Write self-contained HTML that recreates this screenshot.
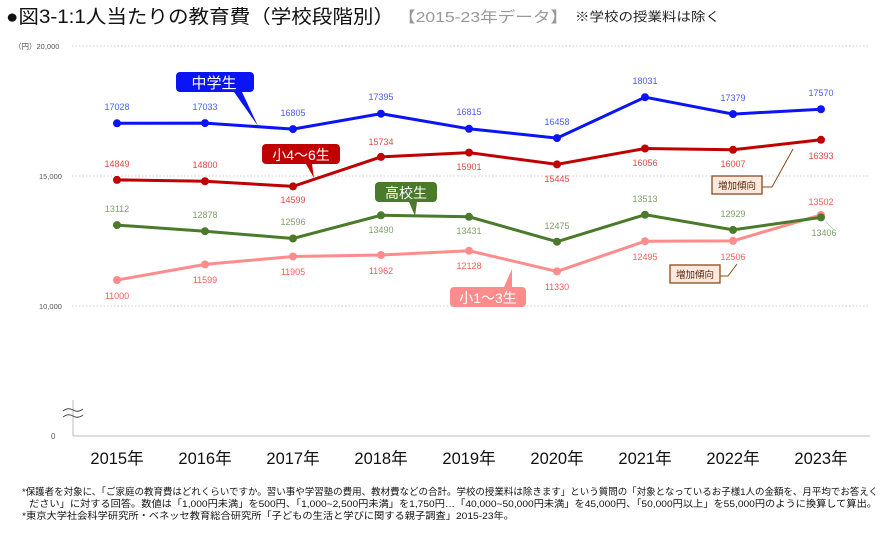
<!DOCTYPE html>
<html><head><meta charset="utf-8"><style>
body{margin:0;background:#fff;width:882px;height:530px;overflow:hidden;font-family:"Liberation Sans","Noto Sans CJK JP",sans-serif}
</style></head><body>
<svg width="882" height="530" xmlns="http://www.w3.org/2000/svg" font-family="Liberation Sans, Noto Sans CJK JP, sans-serif">
<text x="6" y="23" font-size="19" fill="#111" textLength="388" lengthAdjust="spacingAndGlyphs">●図3-1:1人当たりの教育費（学校段階別）</text>
<text x="398" y="22" font-size="15" fill="#999" textLength="170" lengthAdjust="spacingAndGlyphs">【2015-23年データ】</text>
<text x="575" y="21" font-size="12.5" fill="#222" textLength="145" lengthAdjust="spacingAndGlyphs">※学校の授業料は除く</text>
<text x="14" y="49" font-size="7.5" fill="#555">（円）20,000</text>
<text x="39" y="179" font-size="7.5" fill="#555">15,000</text>
<text x="39" y="309" font-size="7.5" fill="#555">10,000</text>
<text x="51" y="439" font-size="8" fill="#555">0</text>
<g stroke="#ccc" stroke-width="1" stroke-dasharray="1.5,2">
<line x1="72" y1="46" x2="870" y2="46"/><line x1="72" y1="176" x2="870" y2="176"/><line x1="72" y1="306" x2="870" y2="306"/></g>
<line x1="73" y1="400" x2="73" y2="436" stroke="#bbb"/><line x1="73" y1="436" x2="870" y2="436" stroke="#bbb"/>
<path d="M63,411 q5,-4 10,-1 t10,-1 M63,417 q5,-4 10,-1 t10,-1" stroke="#444" fill="#fff" stroke-width="1"/>
<g font-size="16.5" fill="#111" text-anchor="middle">
<text x="117" y="464">2015年</text><text x="205" y="464">2016年</text><text x="293" y="464">2017年</text><text x="381" y="464">2018年</text><text x="469" y="464">2019年</text><text x="557" y="464">2020年</text><text x="645" y="464">2021年</text><text x="733" y="464">2022年</text><text x="821" y="464">2023年</text></g>
<!-- pink -->
<polyline points="117,280 205,264.4 293,256.5 381,255 469,250.7 557,271.4 645,241.2 733,240.9 821,215" fill="none" stroke="#ff8c8c" stroke-width="3"/>
<g fill="#ff8c8c"><circle cx="117" cy="280" r="4"/><circle cx="205" cy="264.4" r="4"/><circle cx="293" cy="256.5" r="4"/><circle cx="381" cy="255" r="4"/><circle cx="469" cy="250.7" r="4"/><circle cx="557" cy="271.4" r="4"/><circle cx="645" cy="241.2" r="4"/><circle cx="733" cy="240.9" r="4"/><circle cx="821" cy="215" r="4"/></g>
<!-- green -->
<polyline points="117,225.1 205,231.2 293,238.5 381,215.3 469,216.8 557,241.7 645,214.7 733,229.9 821,217.4" fill="none" stroke="#4a7a2a" stroke-width="3"/>
<g fill="#4a7a2a"><circle cx="117" cy="225.1" r="4"/><circle cx="205" cy="231.2" r="4"/><circle cx="293" cy="238.5" r="4"/><circle cx="381" cy="215.3" r="4"/><circle cx="469" cy="216.8" r="4"/><circle cx="557" cy="241.7" r="4"/><circle cx="645" cy="214.7" r="4"/><circle cx="733" cy="229.9" r="4"/><circle cx="821" cy="217.4" r="4"/></g>
<!-- red -->
<polyline points="117,179.9 205,181.2 293,186.4 381,156.9 469,152.6 557,164.4 645,148.5 733,149.8 821,139.8" fill="none" stroke="#c00000" stroke-width="3"/>
<g fill="#c00000"><circle cx="117" cy="179.9" r="4"/><circle cx="205" cy="181.2" r="4"/><circle cx="293" cy="186.4" r="4"/><circle cx="381" cy="156.9" r="4"/><circle cx="469" cy="152.6" r="4"/><circle cx="557" cy="164.4" r="4"/><circle cx="645" cy="148.5" r="4"/><circle cx="733" cy="149.8" r="4"/><circle cx="821" cy="139.8" r="4"/></g>
<!-- blue -->
<polyline points="117,123.3 205,123.1 293,129.1 381,113.7 469,128.8 557,138.1 645,97.2 733,114.1 821,109.2" fill="none" stroke="#0a14f5" stroke-width="3"/>
<g fill="#0a14f5"><circle cx="117" cy="123.3" r="4"/><circle cx="205" cy="123.1" r="4"/><circle cx="293" cy="129.1" r="4"/><circle cx="381" cy="113.7" r="4"/><circle cx="469" cy="128.8" r="4"/><circle cx="557" cy="138.1" r="4"/><circle cx="645" cy="97.2" r="4"/><circle cx="733" cy="114.1" r="4"/><circle cx="821" cy="109.2" r="4"/></g>
<g font-size="9" text-anchor="middle">
<g fill="#4a5aff"><text x="117" y="110">17028</text><text x="205" y="110">17033</text><text x="293" y="116">16805</text><text x="381" y="100">17395</text><text x="469" y="115">16815</text><text x="557" y="125">16458</text><text x="645" y="84">18031</text><text x="733" y="101">17379</text><text x="821" y="96">17570</text></g>
<g fill="#e04848"><text x="117" y="167">14849</text><text x="205" y="168">14800</text><text x="293" y="203">14599</text><text x="381" y="145">15734</text><text x="469" y="170">15901</text><text x="557" y="182">15445</text><text x="645" y="166">16056</text><text x="733" y="167">16007</text><text x="821" y="159">16393</text></g>
<g fill="#7da06a"><text x="117" y="212">13112</text><text x="205" y="218">12878</text><text x="293" y="225">12596</text><text x="381" y="233">13490</text><text x="469" y="234">13431</text><text x="557" y="229">12475</text><text x="645" y="202">13513</text><text x="733" y="217">12929</text><text x="824" y="236">13406</text></g>
<g fill="#ff5a5a"><text x="117" y="299">11000</text><text x="205" y="283">11599</text><text x="293" y="275">11905</text><text x="381" y="274">11962</text><text x="469" y="269">12128</text><text x="557" y="290">11330</text><text x="645" y="260">12495</text><text x="733" y="260">12506</text><text x="821" y="205">13502</text></g>
</g>
<line x1="826" y1="222" x2="834" y2="230" stroke="#9c9" stroke-width="0.8"/>
<!-- callouts -->
<path d="M180,72 h70 a4,4 0 0 1 4,4 v12 a4,4 0 0 1 -4,4 h-8 l16,34 l-24,-34 h-54 a4,4 0 0 1 -4,-4 v-12 a4,4 0 0 1 4,-4z" fill="#0a14f5"/>
<text x="214" y="88" font-size="15" fill="#fff" text-anchor="middle">中学生</text>
<path d="M266,144 h70 a4,4 0 0 1 4,4 v12 a4,4 0 0 1 -4,4 h-24 l2,14 l-8,-14 h-40 a4,4 0 0 1 -4,-4 v-12 a4,4 0 0 1 4,-4z" fill="#c00000"/>
<text x="301" y="160" font-size="14" fill="#fff" text-anchor="middle">小4〜6生</text>
<path d="M379,182 h54 a4,4 0 0 1 4,4 v12 a4,4 0 0 1 -4,4 h-16 l-2,14 l-6,-14 h-30 a4,4 0 0 1 -4,-4 v-12 a4,4 0 0 1 4,-4z" fill="#4a7a2a"/>
<text x="406" y="198" font-size="14" fill="#fff" text-anchor="middle">高校生</text>
<path d="M454,287 h50 l8,-18 l0,18 h10 a4,4 0 0 1 4,4 v12 a4,4 0 0 1 -4,4 h-68 a4,4 0 0 1 -4,-4 v-12 a4,4 0 0 1 4,-4z" fill="#ff8c8c"/>
<text x="488" y="303" font-size="14" fill="#fff" text-anchor="middle">小1〜3生</text>
<rect x="712" y="176" width="50" height="18" fill="#fce8dc" stroke="#8b4a1a" stroke-width="1.3"/>
<text x="737" y="189" font-size="9.5" fill="#5a2a10" text-anchor="middle">増加傾向</text>
<polyline points="762,187 772,187 793,149" fill="none" stroke="#8b4a1a" stroke-width="1"/>
<rect x="670" y="265" width="50" height="18" fill="#fce8dc" stroke="#8b4a1a" stroke-width="1.3"/>
<text x="695" y="278" font-size="9.5" fill="#5a2a10" text-anchor="middle">増加傾向</text>
<polyline points="720,276 728,276 737,264" fill="none" stroke="#8b4a1a" stroke-width="1"/>
<g font-size="9.5" fill="#111">
<text x="22" y="495" textLength="856" lengthAdjust="spacingAndGlyphs">*保護者を対象に、「ご家庭の教育費はどれくらいですか。習い事や学習塾の費用、教材費などの合計。学校の授業料は除きます」という質問の「対象となっているお子様1人の金額を、月平均でお答えく</text>
<text x="29" y="507" textLength="848" lengthAdjust="spacingAndGlyphs">ださい」に対する回答。数値は「1,000円未満」を500円、「1,000~2,500円未満」を1,750円…「40,000~50,000円未満」を45,000円、「50,000円以上」を55,000円のように換算して算出。</text>
<text x="22" y="519" textLength="492" lengthAdjust="spacingAndGlyphs">*東京大学社会科学研究所・ベネッセ教育総合研究所「子どもの生活と学びに関する親子調査」2015-23年。</text>
</g>
</svg>
</body></html>
